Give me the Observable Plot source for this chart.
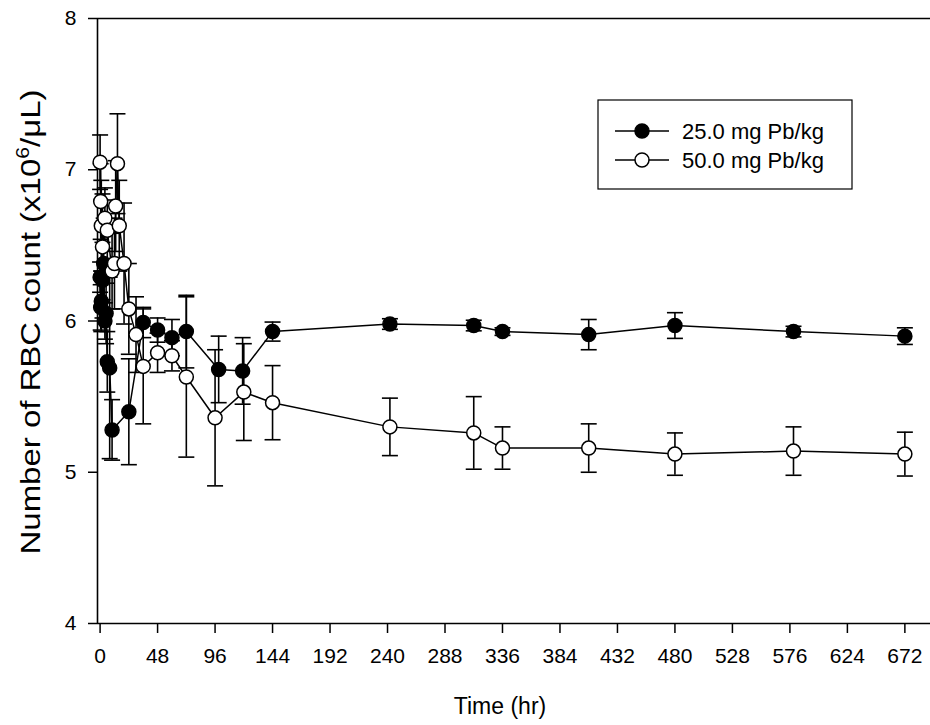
<!DOCTYPE html>
<html>
<head>
<meta charset="utf-8">
<script src="https://cdn.jsdelivr.net/npm/d3@7"></script>
<script src="https://cdn.jsdelivr.net/npm/@observablehq/plot@0.6"></script>
<style>
  body { margin: 0; background: #fff; }
  #chart { position: relative; width: 930px; height: 725px; }
  svg { font-family: "Liberation Sans", Arial, sans-serif; }
</style>
</head>
<body>
<div id="chart"></div>
<script>
// RBC count (x10^6/uL) over time after a single lead dose, mean ± error
const seriesNames = ["25.0 mg Pb/kg", "50.0 mg Pb/kg"];

const hours25 = [0, 0.5, 1, 2, 3, 4, 5, 6, 8, 10, 24, 36, 48, 60, 72, 99, 119, 144, 242, 312, 336, 408, 480, 579, 672];
const rbc25   = [6.29, 6.09, 6.13, 6.27, 6.38, 6.00, 6.05, 5.73, 5.69, 5.28, 5.40, 5.99, 5.94, 5.89, 5.93, 5.68, 5.67, 5.93, 5.98, 5.97, 5.93, 5.91, 5.97, 5.93, 5.90];
const err25   = [0.10, 0.15, 0.20, 0.25, 0.30, 0.12, 0.20, 0.20, 0.60, 0.20, 0.35, 0.10, 0.08, 0.12, 0.24, 0.22, 0.22, 0.063, 0.035, 0.035, 0.025, 0.10, 0.085, 0.035, 0.055];

const hours50 = [0, 0.5, 1, 2, 4, 6, 10, 12, 13, 14.5, 16, 20, 24, 30, 36, 48, 60, 72, 96, 120, 144, 242, 312, 336, 408, 480, 579, 672];
const rbc50   = [7.05, 6.79, 6.63, 6.49, 6.68, 6.60, 6.33, 6.38, 6.76, 7.04, 6.63, 6.38, 6.08, 5.91, 5.70, 5.79, 5.77, 5.63, 5.36, 5.53, 5.46, 5.30, 5.26, 5.16, 5.16, 5.12, 5.14, 5.12];
const err50   = [0.18, 0.25, 0.30, 0.35, 0.20, 0.20, 0.25, 0.30, 0.30, 0.33, 0.30, 0.40, 0.30, 0.25, 0.38, 0.13, 0.10, 0.53, 0.45, 0.32, 0.245, 0.19, 0.24, 0.14, 0.16, 0.14, 0.16, 0.145];

const xTicks = d3.range(0, 673, 48);
const yTicks = [4, 5, 6, 7, 8];
const xDomain = [-2.17, 693.4];
const yDomain = [4, 8];

const toRows = (hours, vals, errs, name) =>
  hours.map((t, i) => ({ t, v: vals[i], lo: vals[i] - errs[i], hi: vals[i] + errs[i], name }));

const low = toRows(hours25, rbc25, err25, seriesNames[0]);
const high = toRows(hours50, rbc50, err50, seriesNames[1]);

// short horizontal stroke used as the error-bar cap
const cap = {
  draw(ctx, size) {
    const w = Math.sqrt(size / Math.PI);
    ctx.moveTo(-w, 0);
    ctx.lineTo(w, 0);
  }
};

function seriesMarks(rows, fill) {
  return [
    Plot.ruleX(rows, { x: "t", y1: "lo", y2: "hi", stroke: "#000", strokeWidth: 1.6 }),
    Plot.dot(rows, { x: "t", y: "hi", symbol: cap, r: 8, stroke: "#000", strokeWidth: 1.6, fill: "none" }),
    Plot.dot(rows, { x: "t", y: "lo", symbol: cap, r: 8, stroke: "#000", strokeWidth: 1.6, fill: "none" }),
    Plot.line(rows, { x: "t", y: "v", stroke: "#000", strokeWidth: 1.5 }),
    Plot.dot(rows, { x: "t", y: "v", r: 7, fill, stroke: "#000", strokeWidth: 1.5 })
  ];
}

const chart = Plot.plot({
  width: 930,
  height: 725,
  marginTop: 18,
  marginLeft: 97,
  marginRight: 0,
  marginBottom: 102,
  style: { fontFamily: "Liberation Sans, Arial, sans-serif", fontSize: "21px", color: "#000", background: "#fff" },
  x: { domain: xDomain },
  y: { domain: yDomain },
  marks: [
    Plot.axisX({ ticks: xTicks, tickSize: 10, tickPadding: 15, label: null, fontSize: 21, strokeWidth: 1.5 }),
    Plot.axisY({ ticks: yTicks, tickSize: 9, tickPadding: 12, label: null, fontSize: 21, strokeWidth: 1.5, tickFormat: d3.format("d") }),
    Plot.ruleY([yDomain[0]], { stroke: "#000", strokeWidth: 1.6 }),
    Plot.ruleY([yDomain[1]], { stroke: "#000", strokeWidth: 1.6 }),
    Plot.ruleX([xDomain[0]], { stroke: "#000", strokeWidth: 1.6 }),
    ...seriesMarks(low, "#000"),
    ...seriesMarks(high, "#fff")
  ]
});

document.getElementById("chart").appendChild(chart);

const svg = d3.select(chart);

// axis titles
svg.append("text")
  .attr("x", 500).attr("y", 714)
  .attr("text-anchor", "middle")
  .attr("font-size", 23)
  .attr("fill", "#000")
  .text("Time (hr)");

const yTitle = svg.append("text")
  .attr("transform", "translate(40,322) rotate(-90)")
  .attr("text-anchor", "middle")
  .attr("font-size", 28)
  .attr("textLength", 465)
  .attr("lengthAdjust", "spacingAndGlyphs")
  .attr("fill", "#000");
yTitle.append("tspan").text("Number of RBC count (x10");
yTitle.append("tspan").attr("dy", -11).attr("font-size", 18).text("6");
yTitle.append("tspan").attr("dy", 11).text("/\u03bcL)");

// legend box
const lg = svg.append("g").attr("transform", "translate(598,100)");
lg.append("rect").attr("width", 254).attr("height", 89)
  .attr("fill", "#fff").attr("stroke", "#000").attr("stroke-width", 1.2);
seriesNames.forEach((name, i) => {
  const y = 31 + i * 29;
  lg.append("line").attr("x1", 17).attr("x2", 71).attr("y1", y).attr("y2", y)
    .attr("stroke", "#000").attr("stroke-width", 1.5);
  lg.append("circle").attr("cx", 44).attr("cy", y).attr("r", 7)
    .attr("fill", i === 0 ? "#000" : "#fff").attr("stroke", "#000").attr("stroke-width", 1.5);
  lg.append("text").attr("x", 84).attr("y", y + 8)
    .attr("text-anchor", "start")
    .attr("font-size", 22).attr("fill", "#000").text(name);
});
</script>
</body>
</html>
